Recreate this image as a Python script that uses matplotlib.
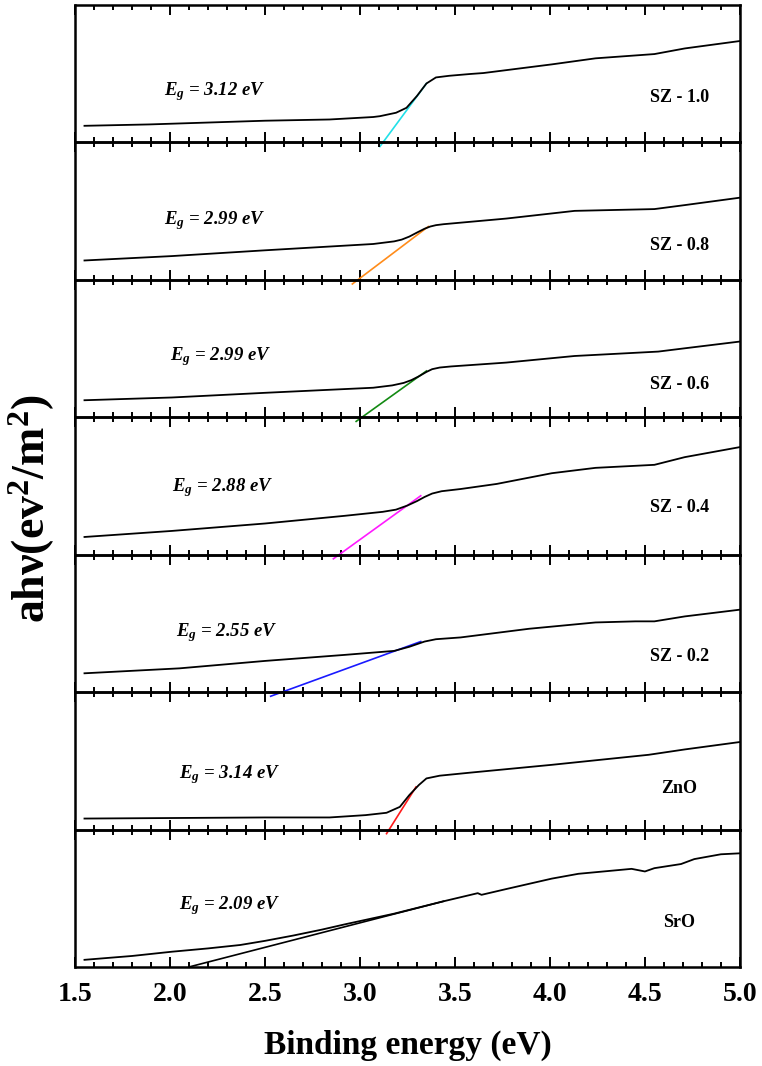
import matplotlib as mpl
mpl.use('Agg')
from matplotlib import pyplot as plt
from matplotlib.ticker import MultipleLocator, FormatStrFormatter

# ---- data (arbitrary units, each panel scaled 0..1) ----
names = ['SZ - 1.0', 'SZ - 0.8', 'SZ - 0.6', 'SZ - 0.4', 'SZ - 0.2', 'ZnO', 'SrO']
gaps = ['3.12', '2.99', '2.99', '2.88', '2.55', '3.14', '2.09']
fit_colors = ['#22e0e8', '#ff8c1a', '#138a13', '#ff1aff', '#1a1aff', '#ff1a1a', 'black']

x_sz10 = [1.55, 1.89, 2.50, 2.84, 3.07, 3.105, 3.19, 3.245, 3.30, 3.35, 3.40, 3.47, 3.58, 3.65, 4.01, 4.24, 4.55, 4.71, 5.0]
y_sz10 = [0.121, 0.131, 0.158, 0.167, 0.185, 0.191, 0.216, 0.252, 0.338, 0.429, 0.473, 0.485, 0.498, 0.505, 0.568, 0.612, 0.643, 0.684, 0.738]

x_sz08 = [1.55, 2.01, 2.50, 3.07, 3.18, 3.22, 3.26, 3.30, 3.34, 3.37, 3.40, 3.44, 3.77, 4.13, 4.55, 4.71, 5.0]
y_sz08 = [0.141, 0.173, 0.215, 0.261, 0.280, 0.293, 0.315, 0.344, 0.372, 0.388, 0.398, 0.405, 0.446, 0.502, 0.515, 0.544, 0.598]

x_sz06 = [1.55, 2.01, 2.50, 3.07, 3.17, 3.23, 3.27, 3.31, 3.35, 3.38, 3.42, 3.48, 3.77, 4.13, 4.57, 4.71, 5.0]
y_sz06 = [0.124, 0.144, 0.178, 0.215, 0.232, 0.250, 0.270, 0.298, 0.330, 0.350, 0.362, 0.370, 0.398, 0.446, 0.478, 0.502, 0.551]

x_sz04 = [1.55, 2.01, 2.50, 2.92, 3.12, 3.19, 3.25, 3.30, 3.34, 3.38, 3.43, 3.53, 3.72, 4.01, 4.24, 4.55, 4.71, 5.0]
y_sz04 = [0.129, 0.173, 0.227, 0.283, 0.312, 0.328, 0.358, 0.390, 0.420, 0.445, 0.462, 0.478, 0.515, 0.593, 0.632, 0.654, 0.710, 0.783]

x_sz02 = [1.55, 2.05, 2.50, 2.92, 3.18, 3.26, 3.34, 3.40, 3.53, 3.89, 4.24, 4.45, 4.55, 4.71, 5.0]
y_sz02 = [0.137, 0.173, 0.227, 0.271, 0.300, 0.330, 0.368, 0.385, 0.398, 0.461, 0.507, 0.515, 0.515, 0.551, 0.600]

x_zno = [1.55, 2.50, 2.84, 3.03, 3.14, 3.21, 3.26, 3.31, 3.35, 3.42, 3.58, 4.01, 4.52, 4.71, 5.0]
y_zno = [0.080, 0.088, 0.088, 0.105, 0.122, 0.165, 0.251, 0.324, 0.372, 0.392, 0.414, 0.471, 0.544, 0.583, 0.637]

x_sro = [1.55, 1.80, 2.01, 2.20, 2.37, 2.50, 2.65, 2.80, 2.92, 3.18, 3.44, 3.62, 3.64, 3.77, 4.01, 4.15, 4.43, 4.50, 4.55, 4.69, 4.76, 4.90, 5.0]
y_sro = [0.052, 0.080, 0.111, 0.135, 0.160, 0.190, 0.229, 0.272, 0.310, 0.388, 0.478, 0.537, 0.525, 0.567, 0.643, 0.678, 0.714, 0.695, 0.719, 0.749, 0.785, 0.820, 0.827]

curves_x = [x_sz10, x_sz08, x_sz06, x_sz04, x_sz02, x_zno, x_sro]
curves_y = [y_sz10, y_sz08, y_sz06, y_sz04, y_sz02, y_zno, y_sro]

# linear fits (start slightly below each panel, end at the knee)
fit_x = [[3.105, 3.35], [2.96, 3.36], [2.98, 3.35], [2.86, 3.32], [2.53, 3.32], [3.14, 3.295], [2.10, 3.44]]
fit_y = [[-0.03, 0.429], [-0.03, 0.388], [-0.03, 0.337], [-0.03, 0.429], [-0.03, 0.368], [-0.03, 0.31], [0.0, 0.478]]

eg_x = [1.97, 1.97, 2.0, 2.01, 2.03, 2.05, 2.05]
eg_y = [0.37, 0.43, 0.44, 0.49, 0.43, 0.40, 0.45]
name_y = [0.33, 0.25, 0.24, 0.34, 0.26, 0.30, 0.32]

plt.rc('font', family='Liberation Serif', weight='bold', size=13)
plt.rc('mathtext', fontset='custom', rm='Liberation Serif:bold',
       it='Liberation Serif:italic:bold', bf='Liberation Serif:bold')

fig, axes = plt.subplots(7, 1, figsize=(7.62, 10.66), dpi=100, sharex=True)
fig.subplots_adjust(left=0.0984, right=0.971, top=0.9953, bottom=0.0929, hspace=0)

for i, ax in enumerate(axes):
    ax.set_facecolor('none')
    ax.plot(curves_x[i], curves_y[i], color='black', linewidth=1.3, zorder=3)
    ax.plot(fit_x[i], fit_y[i], color=fit_colors[i], linewidth=1.2, clip_on=False, zorder=2)
    ax.text(eg_x[i], eg_y[i], r'$E_g$' + ' = ' + gaps[i] + ' eV', fontsize=13.5,
            fontstyle='italic', fontweight='bold', va='center', ha='left')
    ax.text(4.68, name_y[i], names[i], fontsize=13, fontweight='bold', ha='center', va='center')
    ax.set_xlim(1.5, 5.0)
    ax.set_ylim(0, 1)
    ax.set_yticks([])
    ax.xaxis.set_major_locator(MultipleLocator(0.5))
    ax.xaxis.set_minor_locator(MultipleLocator(0.1))
    ax.tick_params(axis='x', which='both', direction='in', top=True, bottom=True, width=1.4)
    ax.tick_params(axis='x', which='major', length=7.5)
    ax.tick_params(axis='x', which='minor', length=3.5)
    for s in ax.spines.values():
        s.set_linewidth(1.8)
    if i < 6:
        ax.tick_params(axis='x', labelbottom=False)

axes[-1].tick_params(axis='x', labelsize=20, pad=11)
axes[-1].xaxis.set_major_formatter(FormatStrFormatter('%.1f'))
axes[-1].set_xlabel('Binding energy (eV)', fontsize=24, fontweight='bold', labelpad=16)
fig.text(0.042, 0.5225, r'ahν(ev$^2$/m$^2$)', rotation=90, fontsize=33, fontweight='bold',
         ha='center', va='center')

plt.savefig('out.png', dpi=100)
